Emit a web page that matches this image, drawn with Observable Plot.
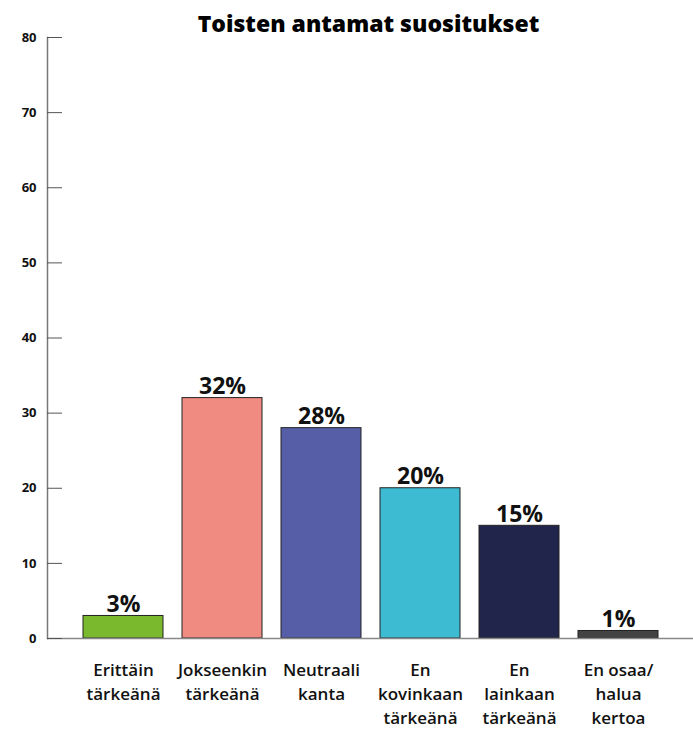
<!DOCTYPE html>
<html><head><meta charset="utf-8">
<script src="https://cdn.jsdelivr.net/npm/d3@7"></script>
<script src="https://cdn.jsdelivr.net/npm/@observablehq/plot@0.6"></script>
<style>
body{margin:0;background:#fff;}
svg{font-family:"Open Sans",sans-serif;}
</style></head>
<body><div id="chart"></div>
<script>
const title = "Toisten antamat suositukset";
const categories = ["Erittäin\ntärkeänä","Jokseenkin\ntärkeänä","Neutraali\nkanta","En\nkovinkaan\ntärkeänä","En\nlainkaan\ntärkeänä","En osaa/\nhalua\nkertoa"];
const values = [3,32,28,20,15,1];
const colors = ["#7ab92d","#f08b82","#565ea8","#3dbbd3","#22254b","#434343"];
const yTicks = [0,10,20,30,40,50,60,70,80];

const data = categories.map((c,i)=>({cat:c, value:values[i], color:colors[i]}));

const plot = Plot.plot({
  width: 693, height: 730,
  marginTop: 37, marginBottom: 92, marginLeft: 47, marginRight: 0,
  style: {fontFamily: "'Open Sans', sans-serif", color: "#111"},
  x: {domain: categories, paddingInner: 0.187, paddingOuter: 0.0935, insetLeft: 24.5, insetRight: 22.7, label: null},
  y: {domain: [0,80], label: null},
  marks: [
    Plot.barY(data, {x:"cat", y:"value", fill:"color", stroke:"#222", strokeWidth:1}),
    Plot.ruleY([0], {stroke:"#888", strokeWidth:1.5}),
    Plot.frame({anchor:"left", stroke:"#777", strokeWidth:1.5}),
    Plot.axisY({ticks: yTicks, tickSize: -15, tickPadding: 26, stroke:"#555", fontSize: 13, fontWeight: 700, tickFormat: d=>d, label:null}),
    Plot.axisX({tickSize: 0, tickPadding: 21, fontSize: 17, fontWeight: 600, lineHeight: 1.4, label: null, fill:"#111"}),
    Plot.text(data, {x:"cat", y:"value", text: d=>d.value+"%", dy:-4, lineAnchor:"bottom", fontSize:23, fontWeight:700, fill:"#111"}),
    Plot.text([title], {frameAnchor:"top", text: d=>d, dy:-6, dx:-2, lineAnchor:"bottom", fontSize:23, fontWeight:800, fill:"#000"})
  ]
});
document.getElementById("chart").appendChild(plot);
</script></body></html>
